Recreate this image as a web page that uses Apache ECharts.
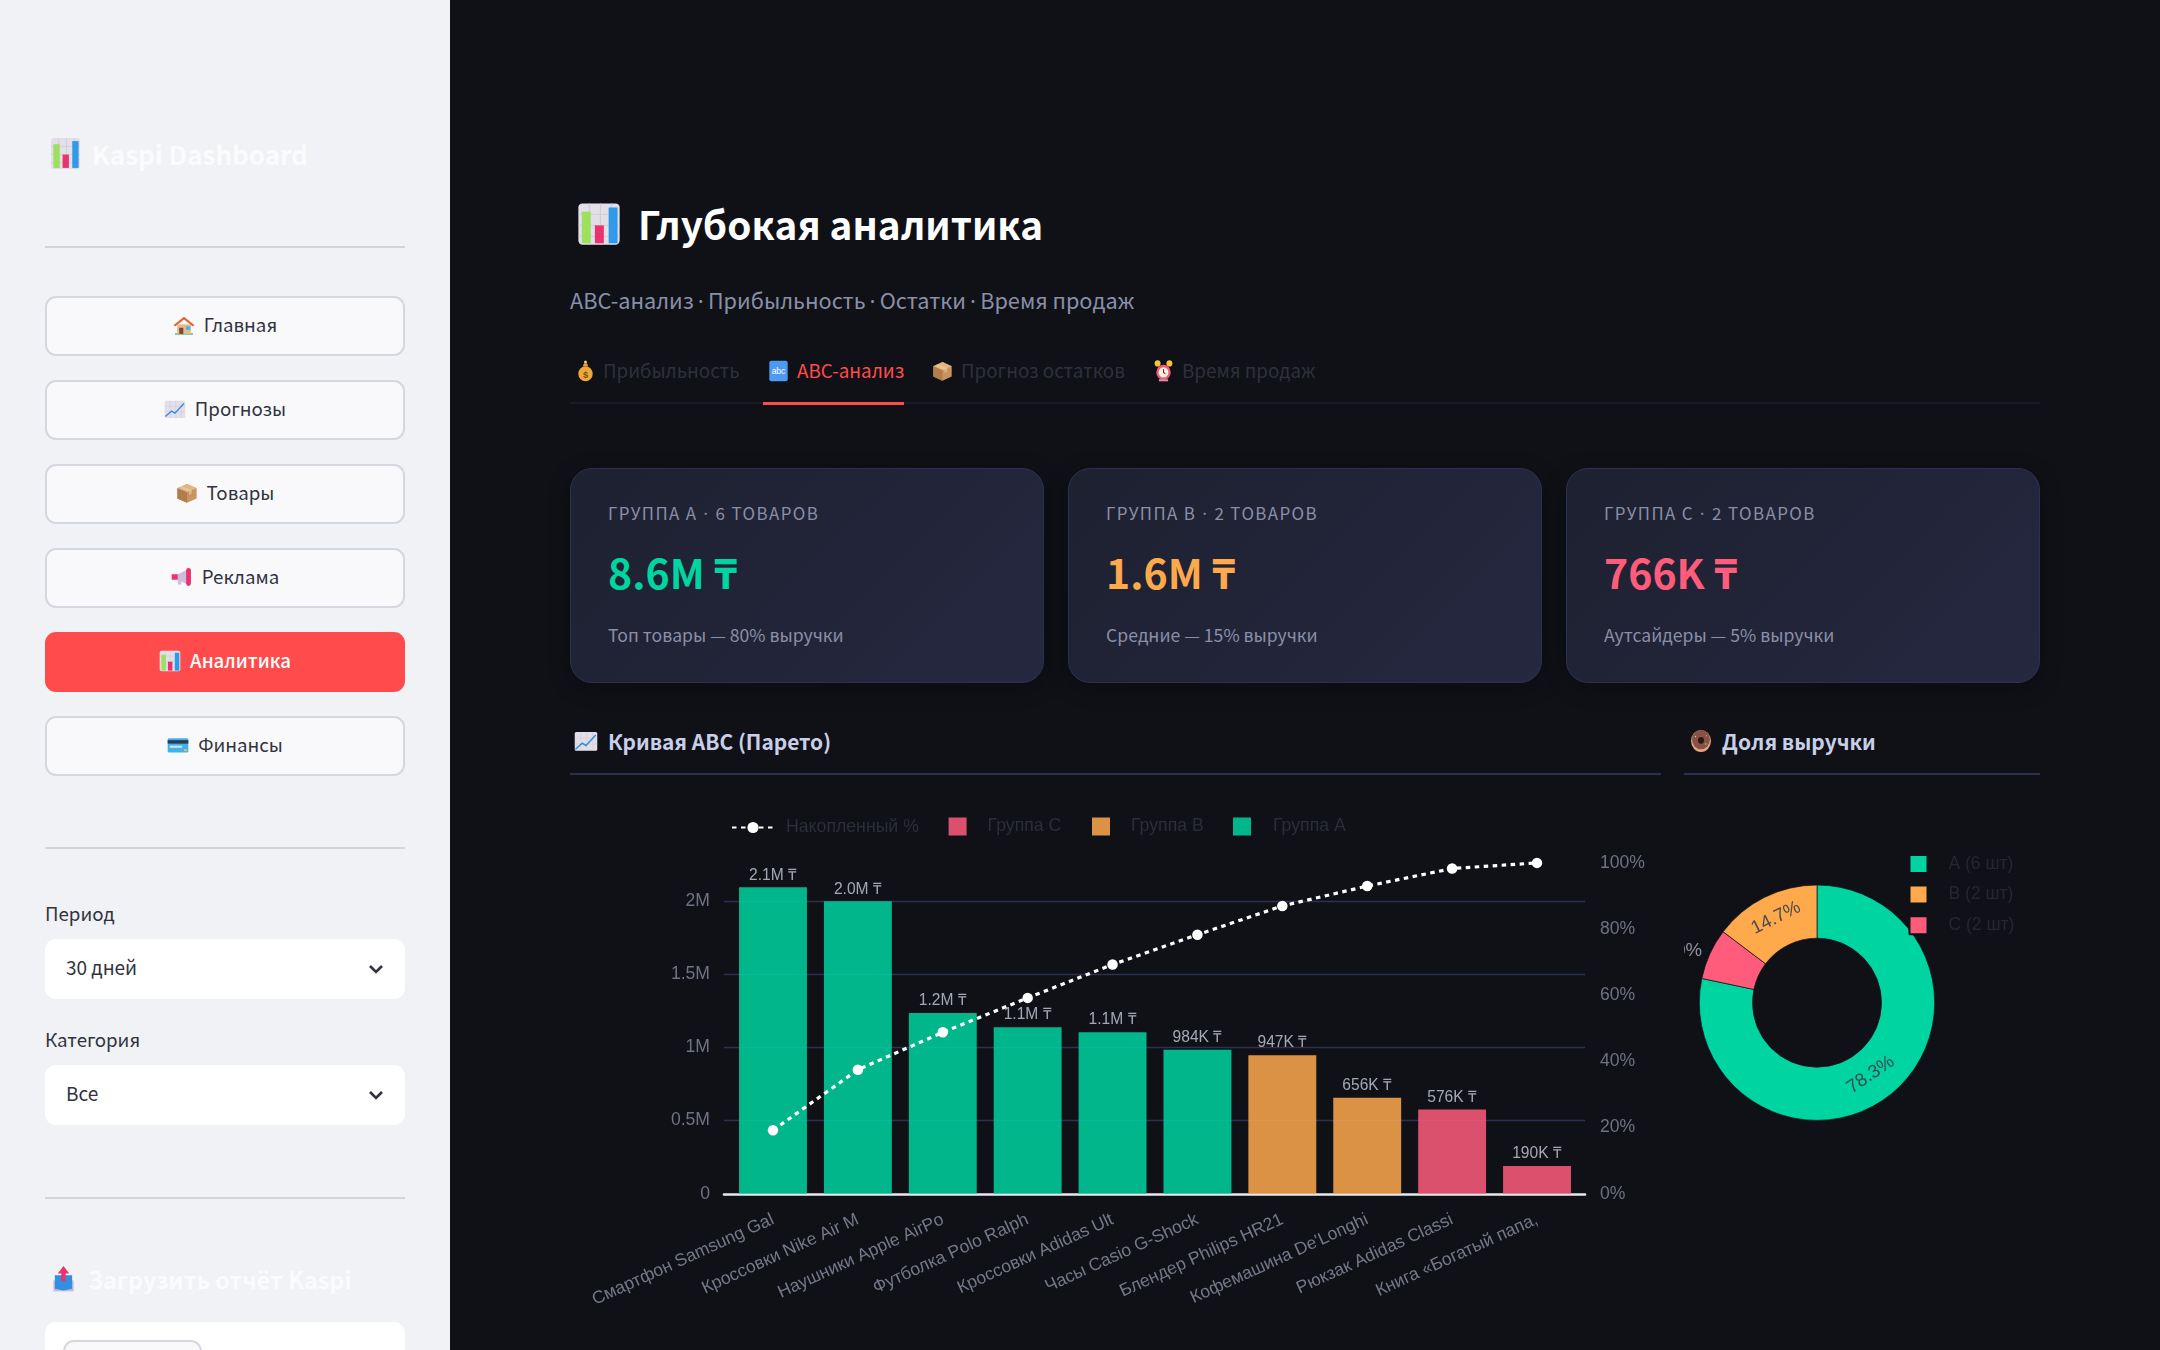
<!DOCTYPE html>
<html><head><meta charset="utf-8">
<script src="https://cdn.jsdelivr.net/npm/echarts@6/dist/echarts.min.js"></script>
<style>
html,body{margin:0;padding:0;width:2160px;height:1350px;overflow:hidden;background:#0f1117;font-family:"Noto Sans CJK JP","Noto Sans",sans-serif}
#side{position:absolute;left:0;top:0;width:450px;height:1350px;background:#f0f2f6;overflow:hidden}
.t{position:absolute;white-space:nowrap;transform:translateY(-50%);line-height:1.2}
.ic{position:absolute;display:block}
.hr{position:absolute;height:2px}
.btn{position:absolute;left:45px;width:360px;height:60px;box-sizing:border-box;border:2px solid #d5d7de;border-radius:11px;background:#f9f9fb;color:#31333f;font-size:18.7px;display:flex;align-items:center;justify-content:center;gap:9px}
.btn span{position:relative;top:-2px}
.btn svg{width:22px;height:22px;flex:none;position:relative;top:-1px}
.btn.on{background:#ff4b4b;border-color:#ff4b4b;color:#fff;font-weight:500}
.sel{position:absolute;left:45px;width:360px;height:60px;background:#fff;border-radius:11px}
.sel span{position:absolute;left:21px;top:calc(50% - 3px);transform:translateY(-50%);font-size:19px;color:#31333f}
.sel svg{position:absolute;left:322px;top:21px;width:18px;height:18px}
.card{position:absolute;top:468px;width:474px;height:215px;box-sizing:border-box;border:1.5px solid #2d3150;border-radius:22px;background:linear-gradient(135deg,#1e2130,#252840);box-shadow:0 5px 22px rgba(0,0,0,.3)}
.card .a{position:absolute;left:37px;top:43px;transform:translateY(-50%);font-size:16.9px;letter-spacing:1.4px;color:#8a8fa8;white-space:nowrap}
.card .a i{font-style:normal;margin:0 -1.6px}
.card .b{position:absolute;left:37px;top:101.5px;transform:translateY(-50%);font-size:41px;font-weight:700;white-space:nowrap}
.card .c{position:absolute;left:37px;top:165px;transform:translateY(-50%);font-size:17.6px;color:#8a8fa8;white-space:nowrap}
.sep{margin:0 -3.9px}
#bar{position:absolute;left:570px;top:780px;width:1090px;height:570px}
#pie{position:absolute;left:1684px;top:780px;width:356px;height:570px}
</style></head><body>
<div id="side"></div>
<div id="main"></div>
<div id="bar"></div>
<div id="pie"></div>
<script>
// ---- data ----
const categories = ['Смартфон Samsung Gal','Кроссовки Nike Air M','Наушники Apple AirPo','Футболка Polo Ralph','Кроссовки Adidas Ult','Часы Casio G-Shock','Блендер Philips HR21',"Кофемашина De'Longhi",'Рюкзак Adidas Classi','Книга «Богатый папа,'];
const groupA = [2094000,1998000,1234000,1138000,1104000,984000,null,null,null,null];
const groupB = [null,null,null,null,null,null,947000,656000,null,null];
const groupC = [null,null,null,null,null,null,null,null,576000,190000];
const barLabels = ['2.1M ₸','2.0M ₸','1.2M ₸','1.1M ₸','1.1M ₸','984K ₸','947K ₸','656K ₸','576K ₸','190K ₸'];
const cumulative = [19.2,37.5,48.8,59.2,69.3,78.3,87.0,93.0,98.3,100];
const shareNames = ['A (6 шт)','C (2 шт)','B (2 шт)'];
const shareValues = [78.3,7.0,14.7];
const leftTicks = {min:0,max:2260000,interval:500000};
const rightTicks = {min:0,max:100,interval:20};

// ---- colours ----
const GREEN='#00d4a0',ORANGE='#ffa94d',PINK='#ff5c7c';

// ---- small icons in place of colour emoji ----
const ICON={
chart:'<rect x="1" y="1" width="30" height="30" rx="3" fill="#e3dfe8"/><path d="M1 9h30M1 17h30M1 25h30M9 1v30M17 1v30M25 1v30" stroke="#cfc9d8" stroke-width=".7"/><rect x="3.5" y="7" width="6.5" height="23" fill="#9be15d"/><rect x="13" y="17" width="6.5" height="13" fill="#e8336e"/><rect x="23" y="4" width="6.5" height="26" fill="#2f9ae8"/>',
house:'<path d="M3 29h26" stroke="#3dbb6a" stroke-width="2"/><path d="M6 15h20v14H6z" fill="#e8b98a"/><path d="M1 16 16 4l15 12-2 2L16 8 3 18z" fill="#e8602c"/><rect x="9" y="20" width="6" height="9" fill="#7a4a35"/><rect x="19" y="18" width="6" height="5" fill="#39b9e8"/>',
up:'<rect x="1" y="4" width="30" height="25" rx="2" fill="#e3dfe8"/><path d="M1 12h30M1 20h30M9 4v25M17 4v25M25 4v25" stroke="#cfc9d8" stroke-width=".7"/><path d="M2 27 11 19l5 3L29 8" fill="none" stroke="#2f8fe0" stroke-width="2"/>',
box:'<path d="M16 3 30 9v15l-14 6-14-6V9z" fill="#c9935f"/><path d="M2 9l14 6 14-6-14-6z" fill="#e2b481"/><path d="M16 15v15L2 24V9z" fill="#b27d4b"/><path d="M9 6l14 6v5l-4 2v-5L5 8z" fill="#edd0a8" opacity=".55"/>',
mega:'<rect x="1" y="12" width="9" height="8" fill="#e8336e"/><path d="M10 12 24 5v22L10 20z" fill="#cdbfdc"/><rect x="10" y="20" width="5" height="7" fill="#cdbfdc"/><rect x="22" y="3" width="7" height="26" rx="3.5" fill="#e8336e"/>',
card:'<rect x="1" y="6" width="30" height="21" rx="2" fill="#41b1ea"/><rect x="1" y="9" width="30" height="5" fill="#2b3a55"/><rect x="4" y="17" width="18" height="3" fill="#cfe4f2"/><rect x="25" y="22" width="4" height="3" fill="#f5c33b"/>',
upload:'<path d="M2 17h28v13H2z" fill="#c9b8dc"/><path d="M4 11h24v16l-12 2-12-2z" fill="#2f8fe0"/><path d="M16 0 24 9h-5v9h-6V9H8z" fill="#e8336e"/>',
bag:'<circle cx="16" cy="20" r="11" fill="#f0a73a"/><path d="M12 9h8l-1.5-4h-5z" fill="#e6a23a"/><circle cx="16" cy="3" r="2.4" fill="#e8c070"/><text x="16" y="26" font-size="14" font-family="Liberation Sans" text-anchor="middle" fill="#7a4a1f" font-weight="700">$</text>',
abc:'<rect x="2" y="1" width="28" height="30" rx="3" fill="#4c9bf0"/><text x="16" y="21" font-size="13" font-family="Liberation Sans" text-anchor="middle" fill="#fff">abc</text>',
alarm:'<circle cx="16" cy="18" r="11" fill="#f05a78"/><circle cx="16" cy="18" r="7.5" fill="#f7efe2"/><path d="M16 13v5l3 2" stroke="#7a2a3a" stroke-width="1.6" fill="none"/><circle cx="7" cy="5" r="4.5" fill="#f3c53b"/><circle cx="25" cy="5" r="4.5" fill="#f3c53b"/><rect x="9" y="28" width="14" height="3" fill="#e88aa0"/>',
donut:'<circle cx="16" cy="16" r="14.5" fill="#e9a37f"/><circle cx="16" cy="14" r="13" fill="#8a5244"/><circle cx="16" cy="15" r="4.5" fill="#2a1a14"/><circle cx="8" cy="10" r="1" fill="#7ed"/><circle cx="24" cy="9" r="1" fill="#f7a"/><circle cx="23" cy="20" r="1" fill="#7ed"/>',
chev:'<path d="M3 6l6 6 6-6" fill="none" stroke="#31333f" stroke-width="2.6"/>'
};
const svg=(n,vb)=>`<svg viewBox="0 0 ${vb||32} ${vb||32}" xmlns="http://www.w3.org/2000/svg">${ICON[n]}</svg>`;
const iconAt=(n,x,y,w,h)=>`<svg class="ic" style="left:${x}px;top:${y}px;width:${w}px;height:${h}px" preserveAspectRatio="none" viewBox="0 0 32 32">${ICON[n]}</svg>`;
const text=(s,x,y,size,color,extra)=>`<div class="t" style="left:${x}px;top:${y}px;font-size:${size}px;color:${color};${extra||''}">${s}</div>`;

// ---- sidebar ----
const navItems=[['house','Главная'],['up','Прогнозы'],['box','Товары'],['mega','Реклама'],['chart','Аналитика'],['card','Финансы']];
let side=iconAt('chart',50,137,31,33)+text('Kaspi Dashboard',92,154,26,'#fbfbfc','font-weight:700');
side+=`<div class="hr" style="left:45px;width:360px;top:245.5px;background:#d2d4da"></div>`;
navItems.forEach((b,i)=>{side+=`<div class="btn${i==4?' on':''}" style="top:${295.5+84*i}px">${svg(b[0])}<span>${b[1]}</span></div>`});
side+=`<div class="hr" style="left:45px;width:360px;top:847px;background:#d2d4da"></div>`;
side+=text('Период',45,912.5,18.7,'#31333f');
side+=`<div class="sel" style="top:939px"><span>30 дней</span><svg viewBox="0 0 18 18">${ICON.chev}</svg></div>`;
side+=text('Категория',45,1039,18.7,'#31333f');
side+=`<div class="sel" style="top:1065px"><span>Все</span><svg viewBox="0 0 18 18">${ICON.chev}</svg></div>`;
side+=`<div class="hr" style="left:45px;width:360px;top:1197px;background:#d2d4da"></div>`;
side+=iconAt('upload',52,1266,23,27)+text('Загрузить отчёт Kaspi',88,1279,23.4,'#fbfbfc','font-weight:700');
side+=`<div class="sel" style="top:1322px;height:80px"><div style="position:absolute;left:18px;top:18px;width:139px;height:60px;box-sizing:border-box;border:2px solid #d5d7de;border-radius:11px;background:#f9f9fb"></div></div>`;
document.getElementById('side').innerHTML=side;

// ---- main header, tabs, cards, section heads ----
let m=iconAt('chart',577,202,44,44);
m+=text('Глубокая аналитика',638,223,38.7,'#fff','font-weight:700');
m+=text('ABC-анализ<span class="sep"> · </span>Прибыльность<span class="sep"> · </span>Остатки<span class="sep"> · </span>Время продаж',570,299.5,21.7,'#8a8fa8');
m+=`<div class="hr" style="left:570px;width:1470px;top:402px;height:1.5px;background:#191b23"></div>`;
m+=`<div class="hr" style="left:763px;width:141px;top:402px;height:3px;background:#ff4b4b"></div>`;
[['bag',575,'Прибыльность',603,'#2e303b'],['abc',768,'ABC-анализ',797,'#ff4b4b'],['box',932,'Прогноз остатков',961,'#2e303b'],['alarm',1153,'Время продаж',1182,'#2e303b']].forEach(t=>{
 m+=iconAt(t[0],t[1],360,21,22)+text(t[2],t[3],370,18.8,t[4]);
});
[[570,'ГРУППА A<i> · </i>6 ТОВАРОВ','8.6M ₸',GREEN,'Топ товары — 80% выручки'],[1068,'ГРУППА B<i> · </i>2 ТОВАРОВ','1.6M ₸',ORANGE,'Средние — 15% выручки'],[1566,'ГРУППА C<i> · </i>2 ТОВАРОВ','766K ₸',PINK,'Аутсайдеры — 5% выручки']].forEach(c=>{
 m+=`<div class="card" style="left:${c[0]}px"><div class="a">${c[1]}</div><div class="b" style="color:${c[3]}">${c[2]}</div><div class="c">${c[4]}</div></div>`;
});
m+=iconAt('up',574,729,24,24)+text('Кривая ABC (Парето)',608,741.5,20.9,'#c8cfe8','font-weight:600');
m+=`<div class="hr" style="left:570px;width:1091px;top:772.5px;background:#2d3150"></div>`;
m+=iconAt('donut',1690,729,22,24)+text('Доля выручки',1722,741.5,20.9,'#c8cfe8','font-weight:600');
m+=`<div class="hr" style="left:1684px;width:356px;top:772.5px;background:#2d3150"></div>`;
document.getElementById('main').innerHTML=m;

// ---- Pareto chart ----
const FONT='"Liberation Sans",Arial,sans-serif';
const legendAt=(name,x,y,w,h,pad,down)=>({data:[name],left:x,top:y,itemWidth:w,itemHeight:h,padding:0,icon:w>h?undefined:'rect',
  textStyle:{color:'#2b2d38',fontSize:17.7,fontFamily:FONT,padding:[down,0,0,pad]}});
const barSeries=(name,vals,col)=>({name,type:'bar',stack:'rev',xAxisIndex:1,yAxisIndex:2,data:vals,barWidth:'80%',
  itemStyle:{color:col,opacity:.85},
  label:{show:true,position:'top',distance:4,color:'#bec2d0',fontSize:15.6,fontFamily:FONT,
    formatter:p=>barLabels[p.dataIndex]}});
const bar=echarts.init(document.getElementById('bar'),null,{renderer:'canvas'});
bar.setOption({animation:false,backgroundColor:'transparent',
 legend:[legendAt('Накопленный %',161,38.5,42,14,7,4),legendAt('Группа C',378.6,37.5,18,18,16,5),legendAt('Группа B',522,37.5,18,18,16,5),legendAt('Группа A',663,37.5,18,18,17,5)],
 grid:[{left:154,right:75,top:82.9,bottom:156.2},{left:160.55,right:80.55,top:82.9,bottom:156.2}],
 xAxis:[
  {gridIndex:0,type:'value',min:0,max:1,axisLabel:{show:false},axisTick:{show:false},splitLine:{show:false},axisLine:{show:true,onZero:false,lineStyle:{color:'#e8e9ee',width:2.6}}},
  {gridIndex:1,type:'category',data:categories,axisLine:{show:false},axisTick:{show:false},
   axisLabel:{interval:0,rotate:24.5,margin:25,color:'#747888',fontSize:17.6,fontFamily:FONT}}
 ],
 yAxis:[
  {gridIndex:0,type:'value',position:'left',...leftTicks,axisLine:{show:false},axisTick:{show:false},
   axisLabel:{margin:14,padding:[3,0,0,0],color:'#6e7282',fontSize:17.6,fontFamily:FONT,showMaxLabel:false,formatter:v=>v===0?'0':(v/1e6)+'M'},
   splitLine:{show:true,showMaxLine:false,showMinLine:false,lineStyle:{color:'#2d3150',width:1.4}}},
  {gridIndex:0,type:'value',position:'right',...rightTicks,axisLine:{show:false},axisTick:{show:false},splitLine:{show:false},
   axisLabel:{margin:15,padding:[2,0,0,0],color:'#6e7282',fontSize:17.6,fontFamily:FONT,formatter:'{value}%'}},
  {gridIndex:1,type:'value',...leftTicks,show:false},
  {gridIndex:1,type:'value',...rightTicks,show:false}
 ],
 series:[
  barSeries('Группа A',groupA,GREEN),
  barSeries('Группа B',groupB,ORANGE),
  barSeries('Группа C',groupC,PINK),
  {name:'Накопленный %',type:'line',xAxisIndex:1,yAxisIndex:3,data:cumulative,z:5,symbol:'circle',symbolSize:10.5,
   lineStyle:{color:'#fff',width:3.2,type:[4.5,4.5]},itemStyle:{color:'#fff'}}
 ]});

// ---- Revenue share donut ----
const labelFor=[
 {position:'inside',rotate:34,offset:[-4,-4],color:'#3c4a50',fontSize:18.6,fontFamily:FONT},
 {position:'inside',rotate:0,offset:[-50.5,-13],color:'#8f92a0',fontSize:18.6,fontFamily:FONT},
 {position:'inside',rotate:26.5,offset:[1,0],color:'#4a4a4c',fontSize:18.6,fontFamily:FONT}
];
const pieColors=[GREEN,PINK,ORANGE];
const pie=echarts.init(document.getElementById('pie'),null,{renderer:'canvas'});
pie.setOption({animation:false,backgroundColor:'transparent',
 legend:{data:['A (6 шт)','B (2 шт)','C (2 шт)'],orient:'vertical',left:224.5,top:74,itemWidth:18,itemHeight:18,itemGap:10.6,padding:0,icon:'rect',
  textStyle:{color:'#25272f',fontSize:17.5,fontFamily:FONT,padding:[0,0,0,16]}},
 series:[{type:'pie',center:[133,222.7],radius:[64.5,117.7],startAngle:90,clockwise:true,labelLine:{show:false},z:1,
  data:shareNames.map((n,i)=>({name:n,value:shareValues[i],
    itemStyle:{color:pieColors[i],borderColor:'#0f1117',borderWidth:.7},
    label:{...labelFor[i],formatter:shareValues[i].toFixed(1)+'%'}}))}]
});
</script>
</body></html>
